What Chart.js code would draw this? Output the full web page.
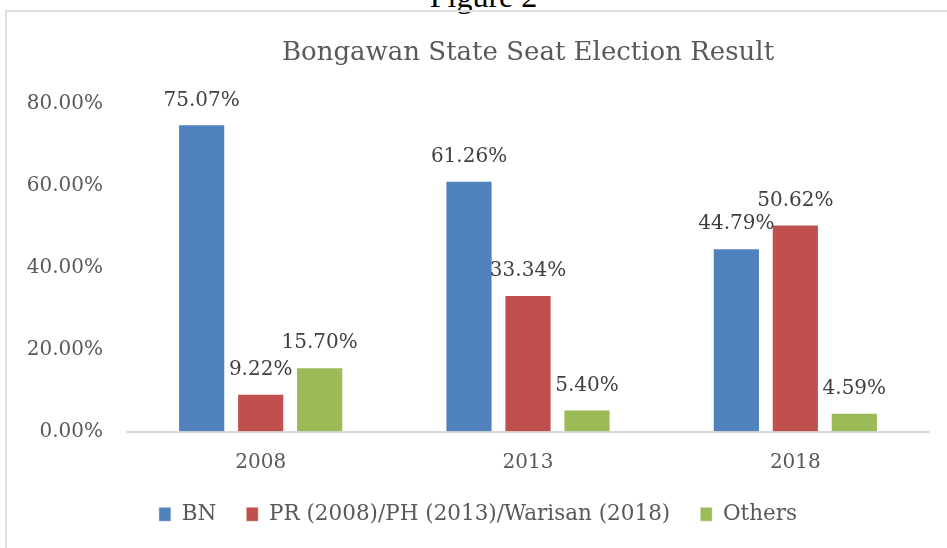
<!DOCTYPE html>
<html>
<head>
<meta charset="utf-8">
<script src="https://cdn.jsdelivr.net/npm/chart.js@4.4.0/dist/chart.umd.min.js"></script>
<style>
    html, body { margin: 0; padding: 0; background: #ffffff; overflow: hidden; }
    #figLabel {
        position: absolute; left: 0; width: 967px; top: -22px;
        text-align: center; font-family: "Liberation Serif", serif; font-size: 32px; color: #000;
    }
    #frame {
        position: absolute; left: 5px; top: 10px; width: 960px; height: 560px;
        border-left: 2px solid #dedede; border-top: 2px solid #dedede;
    }
    #box { position: absolute; left: 7px; top: 12px; width: 940px; height: 536px; }
</style>
</head>
<body>
<div id="figLabel">Figure 2</div>
<div id="frame"></div>
<div id="box"><canvas id="chart"></canvas></div>
<script>
// Datos
const years = ['2008', '2013', '2018'];
const bnValues = [75.07, 61.26, 44.79];
const prValues = [9.22, 33.34, 50.62];
const othersValues = [15.70, 5.40, 4.59];
const yTicks = [0, 20, 40, 60, 80];

const seriesNames = ['BN', 'PR (2008)/PH (2013)/Warisan (2018)', 'Others'];
const seriesColors = ['#4f81bd', '#c0504d', '#9bbb59'];

const FONT = '"DejaVu Serif", serif';
const textGray = '#595959';

// Etiquetas de valor encima de cada barra
const valueLabels = {
    id: 'valueLabels',
    afterDatasetsDraw(chart) {
        const ctx = chart.ctx;
        ctx.save();
        ctx.font = '20px ' + FONT;
        ctx.fillStyle = '#404040';
        ctx.textAlign = 'center';
        ctx.textBaseline = 'middle';
        chart.data.datasets.forEach((ds, i) => {
            const meta = chart.getDatasetMeta(i);
            meta.data.forEach((bar, j) => {
                ctx.fillText(ds.data[j].toFixed(2) + '%', bar.x, bar.y - 24);
            });
        });
        ctx.restore();
    }
};

new Chart(document.getElementById('chart'), {
    type: 'bar',
    data: {
        labels: years,
        datasets: [bnValues, prValues, othersValues].map((vals, i) => ({
            label: seriesNames[i],
            data: vals,
            backgroundColor: seriesColors[i],
            borderColor: 'rgba(255,255,255,0.45)',
            borderWidth: 1,
            categoryPercentage: 0.662,
            barPercentage: 0.8
        }))
    },
    options: {
        responsive: true,
        maintainAspectRatio: false,
        animation: false,
        layout: { padding: { left: 20, right: 18, top: 0, bottom: 13 } },
        plugins: {
            title: {
                display: true,
                text: 'Bongawan State Seat Election Result',
                color: textGray,
                font: { family: FONT, size: 26, weight: 'normal' },
                padding: { top: 26, bottom: 35 },
                fullSize: false
            },
            legend: {
                position: 'bottom',
                labels: {
                    color: textGray,
                    font: { family: FONT, size: 21.5 },
                    boxWidth: 12,
                    boxHeight: 14,
                    padding: 30
                }
            },
            tooltip: { enabled: false }
        },
        scales: {
            x: {
                grid: { display: false, drawTicks: false },
                border: { display: true, color: '#d9d9d9', width: 2 },
                ticks: { color: textGray, font: { family: FONT, size: 20 }, padding: 19 },
                afterFit: (axis) => { axis.height = 42; }
            },
            y: {
                min: 0,
                max: 80,
                afterBuildTicks: (axis) => { axis.ticks = yTicks.map(v => ({ value: v })); },
                afterFit: (axis) => { axis.width = 100; },
                grid: { display: false, drawTicks: false },
                border: { display: false },
                ticks: {
                    color: textGray,
                    font: { family: FONT, size: 20 },
                    padding: 24,
                    callback: (v) => v.toFixed(2) + '%'
                }
            }
        }
    },
    plugins: [valueLabels]
});
</script>
</body>
</html>
